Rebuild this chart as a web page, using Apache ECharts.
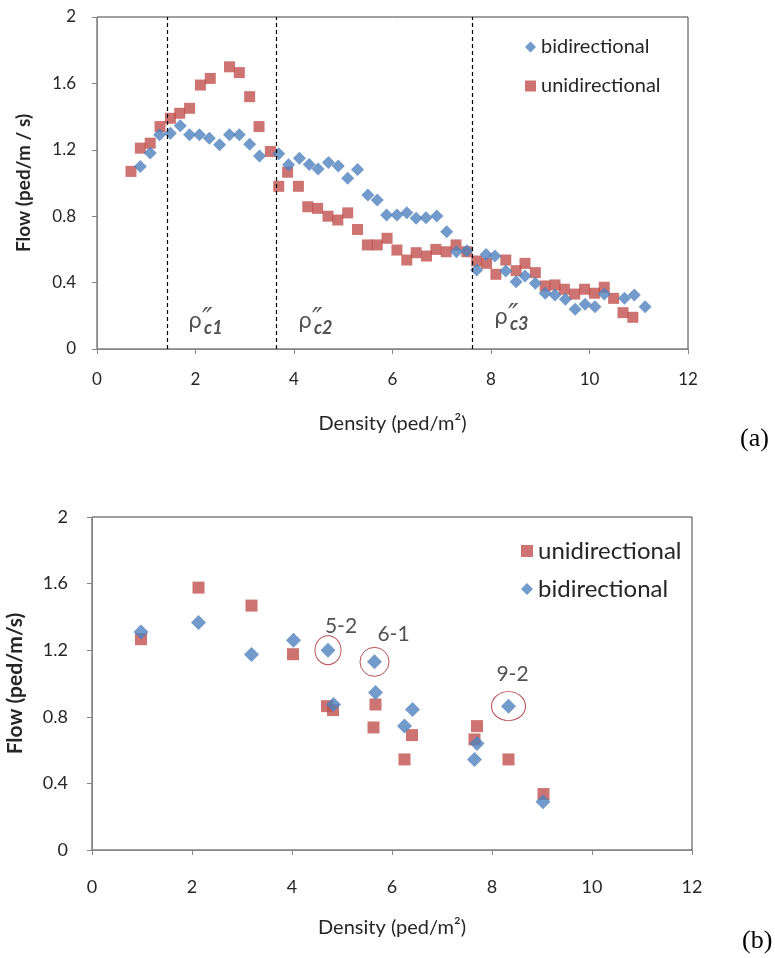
<!DOCTYPE html>
<html>
<head>
<meta charset="utf-8" />
<title>Flow vs Density</title>
<script type="text/javascript" src="https://cdn.jsdelivr.net/npm/echarts@6/dist/echarts.min.js"></script>
<style>
  html, body { margin: 0; padding: 0; background: #fff; }
  #main { width: 775px; height: 958px; }
</style>
</head>
<body>
<div id="main"></div>
<script>
// (a) data
var aBiDensity = [0.88,1.08,1.27,1.49,1.69,1.88,2.08,2.28,2.49,2.69,2.89,3.10,3.30,3.69,3.89,4.11,4.31,4.49,4.70,4.90,5.09,5.29,5.50,5.69,5.88,6.09,6.29,6.48,6.68,6.90,7.10,7.30,7.51,7.71,7.90,8.08,8.30,8.51,8.69,8.90,9.10,9.30,9.51,9.71,9.91,10.11,10.30,10.71,10.91,11.13];
var aBiFlow = [1.10,1.18,1.29,1.30,1.345,1.29,1.29,1.27,1.23,1.29,1.29,1.233,1.163,1.176,1.11,1.149,1.112,1.084,1.124,1.102,1.028,1.082,0.928,0.898,0.807,0.807,0.821,0.787,0.791,0.801,0.707,0.586,0.592,0.476,0.570,0.56,0.47,0.405,0.44,0.396,0.336,0.325,0.30,0.24,0.27,0.255,0.331,0.305,0.325,0.255];
var aUniDensity = [0.69,0.88,1.08,1.28,1.49,1.68,1.88,2.10,2.30,2.69,2.89,3.10,3.29,3.52,3.69,3.87,4.09,4.28,4.48,4.69,4.89,5.09,5.29,5.49,5.69,5.89,6.09,6.29,6.48,6.69,6.88,7.09,7.29,7.51,7.71,7.91,8.10,8.30,8.51,8.69,8.90,9.10,9.30,9.49,9.70,9.90,10.10,10.30,10.49,10.68,10.88];
var aUniFlow = [1.07,1.21,1.24,1.34,1.39,1.42,1.45,1.59,1.63,1.70,1.665,1.52,1.34,1.19,0.98,1.065,0.98,0.857,0.847,0.80,0.777,0.82,0.72,0.627,0.627,0.667,0.596,0.536,0.58,0.56,0.60,0.586,0.627,0.586,0.53,0.516,0.45,0.536,0.472,0.516,0.46,0.38,0.386,0.36,0.331,0.36,0.336,0.372,0.305,0.219,0.191];
// critical densities (dashed lines) and their labels
var critDensity = [1.42, 3.63, 7.61];
var critNames = ['c1', 'c2', 'c3'];
var critLabelX = [1.85, 4.08, 8.06];
var critLabelY = [0.163, 0.163, 0.187];

// (b) data
var bUniDensity = [0.98,2.13,3.19,4.02,4.70,4.82,5.63,5.67,6.25,6.40,7.65,7.70,8.33,9.03];
var bUniFlow = [1.266,1.576,1.468,1.176,0.864,0.84,0.736,0.874,0.544,0.69,0.664,0.744,0.544,0.336];
var bBiDensity = [0.98,2.13,3.19,4.03,4.72,4.83,5.65,5.67,6.25,6.41,7.65,7.70,8.33,9.02];
var bBiFlow = [1.31,1.366,1.174,1.26,1.20,0.874,1.13,0.946,0.744,0.844,0.544,0.64,0.864,0.29];
// circled runs
var markNames = ['5-2', '6-1', '9-2'];
var markDensity = [4.72, 5.65, 8.33];
var markFlow = [1.20, 1.13, 0.864];
var markSizes = [[26, 29], [29, 29], [34, 29]];
var markLabelOffsets = [[13, -24], [19, -28], [4, -32]];

var xTicks = { min: 0, max: 12, interval: 2 };
var yTicks = { min: 0, max: 2, interval: 0.4 };

var BLUE = '#4f81bd', RED = '#c0504d';
var FONT = 'Lato';
var INK = '#262626';

function zip(xs, ys) {
  var out = [];
  for (var i = 0; i < xs.length; i++) out.push([xs[i], ys[i]]);
  return out;
}

function xAxisCfg(idx, gap, margin, tickSize) {
  return {
    gridIndex: idx, type: 'value', min: xTicks.min, max: xTicks.max, interval: xTicks.interval,
    name: 'Density (ped/m\u00b2)', nameLocation: 'middle', nameGap: gap,
    nameTextStyle: { fontFamily: FONT, fontSize: 20, color: INK },
    axisLine: { lineStyle: { color: '#868686' } },
    axisTick: { show: true, length: 5, lineStyle: { color: '#868686' } },
    axisLabel: { margin: margin, fontFamily: FONT, fontSize: tickSize, color: INK },
    splitLine: { show: false }
  };
}
function yAxisCfg(idx, name, nameSize, gap, margin, tickSize) {
  return {
    gridIndex: idx, type: 'value', min: yTicks.min, max: yTicks.max, interval: yTicks.interval,
    name: name, nameLocation: 'middle', nameGap: gap,
    nameTextStyle: { fontFamily: FONT, fontSize: nameSize, fontWeight: 'bold', color: INK },
    axisLine: { show: true, lineStyle: { color: '#868686' } },
    axisTick: { show: true, length: 5, lineStyle: { color: '#868686' } },
    axisLabel: { margin: margin, fontFamily: FONT, fontSize: tickSize, color: INK },
    splitLine: { show: false }
  };
}

var critData = [];
for (var i = 0; i < critNames.length; i++) {
  critData.push({ value: [critLabelX[i], critLabelY[i]], sub: critNames[i] });
}
var markData = [];
for (var j = 0; j < markNames.length; j++) {
  markData.push({
    value: [markDensity[j], markFlow[j]],
    symbolSize: markSizes[j],
    label: { offset: markLabelOffsets[j] },
    name: markNames[j]
  });
}

var chart = echarts.init(document.getElementById('main'));
chart.setOption({
  backgroundColor: '#fff',
  animation: false,
  grid: [
    { left: 97, top: 17, width: 591, height: 332, show: true, borderColor: '#404040', borderWidth: 1, backgroundColor: 'transparent', outerBoundsMode: 'none', containLabel: false },
    { left: 92, top: 517, width: 600, height: 333, show: true, borderColor: '#404040', borderWidth: 1, backgroundColor: 'transparent', outerBoundsMode: 'none', containLabel: false }
  ],
  xAxis: [xAxisCfg(0, 65, 22, 17), xAxisCfg(1, 68, 28, 18)],
  yAxis: [yAxisCfg(0, 'Flow (ped/m / s)', 19, 64, 21, 17), yAxisCfg(1, 'Flow (ped/m/s)', 21, 66, 24, 18)],
  legend: [
    {
      data: ['bidirectional', 'unidirectional'],
      orient: 'vertical', left: 520, top: 31, itemWidth: 11, itemHeight: 11, itemGap: 17,
      textStyle: { fontFamily: FONT, fontSize: 20, color: INK, lineHeight: 22 }
    },
    {
      data: ['unidirectional', 'bidirectional'],
      orient: 'vertical', left: 516, top: 533, itemWidth: 12, itemHeight: 12, itemGap: 12,
      textStyle: { fontFamily: FONT, fontSize: 24, color: INK, lineHeight: 26 }
    }
  ],
  series: [
    {
      name: 'unidirectional', type: 'scatter', xAxisIndex: 0, yAxisIndex: 0,
      symbol: 'rect', symbolSize: 11, itemStyle: { color: RED },
      data: zip(aUniDensity, aUniFlow),
      markLine: {
        silent: true, symbol: 'none', label: { show: false },
        lineStyle: { color: '#000', type: [4, 3], width: 1.2 },
        data: critDensity.map(function (d) { return { xAxis: d }; })
      }
    },
    {
      name: 'bidirectional', type: 'scatter', xAxisIndex: 0, yAxisIndex: 0,
      symbol: 'diamond', symbolSize: 13, itemStyle: { color: BLUE },
      data: zip(aBiDensity, aBiFlow)
    },
    {
      name: 'crit', type: 'scatter', xAxisIndex: 0, yAxisIndex: 0, silent: true,
      symbolSize: 0, data: critData,
      label: {
        show: true, position: 'inside', align: 'left',
        formatter: function (p) { return '{r|\u03c1}{p|\u2033}{s|' + p.data.sub + '}'; },
        rich: {
          r: { fontFamily: 'DejaVu Sans', fontSize: 22, color: INK },
          p: { fontFamily: 'DejaVu Sans', fontSize: 28, fontStyle: 'italic', color: INK, verticalAlign: 'top', width: 2, padding: [0, 0, 2, 0] },
          s: { fontFamily: FONT, fontSize: 18, fontStyle: 'italic', fontWeight: 'bold', color: INK, verticalAlign: 'bottom', padding: [12, 0, 0, 0] }
        }
      }
    },
    {
      name: 'unidirectional', type: 'scatter', xAxisIndex: 1, yAxisIndex: 1,
      symbol: 'rect', symbolSize: 12, itemStyle: { color: RED },
      data: zip(bUniDensity, bUniFlow)
    },
    {
      name: 'bidirectional', type: 'scatter', xAxisIndex: 1, yAxisIndex: 1,
      symbol: 'diamond', symbolSize: 15, itemStyle: { color: BLUE },
      data: zip(bBiDensity, bBiFlow)
    },
    {
      name: 'circled', type: 'scatter', xAxisIndex: 1, yAxisIndex: 1, silent: true,
      symbol: 'circle', z: 1,
      itemStyle: { color: 'transparent', borderColor: '#a6262c', borderWidth: 1 },
      label: {
        show: true, position: 'inside', formatter: '{b}',
        fontFamily: FONT, fontSize: 21, color: INK
      },
      data: markData
    }
  ],
  graphic: [
    { type: 'text', left: 740, top: 426, style: { text: '(a)', font: '26px "Liberation Serif"', fill: '#000' } },
    { type: 'text', left: 742, top: 928, style: { text: '(b)', font: '26px "Liberation Serif"', fill: '#000' } }
  ]
});
</script>
</body>
</html>
